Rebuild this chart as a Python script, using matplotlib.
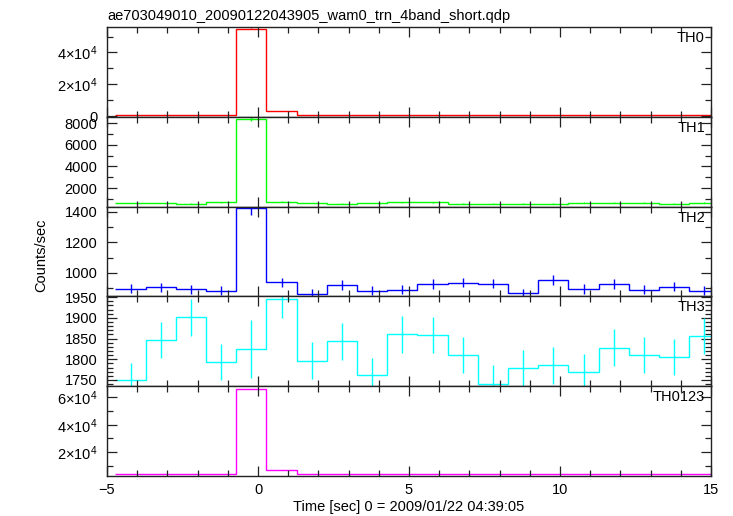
import numpy as np
import matplotlib
matplotlib.use('Agg')
import matplotlib.pyplot as plt
from matplotlib.ticker import MultipleLocator, FuncFormatter

plt.rcParams['font.family'] = ['Liberation Sans', 'DejaVu Sans']
plt.rcParams['mathtext.fontset'] = 'custom'
plt.rcParams['mathtext.rm'] = 'Liberation Sans'
plt.rcParams['mathtext.it'] = 'Liberation Sans:italic'

# bin centres (1 s bins), seconds from trigger
time = [-4.22, -3.22, -2.22, -1.22, -0.22, 0.78, 1.78, 2.78, 3.78, 4.78,
        5.78, 6.78, 7.78, 8.78, 9.78, 10.78, 11.78, 12.78, 13.78, 14.78]

th0 = [800, 800, 780, 780, 54900, 3370, 800, 780, 790, 800,
       780, 800, 500, 780, 800, 790, 780, 500, 800, 790]
th0_err = [30, 30, 30, 30, 250, 60, 30, 30, 30, 30,
           30, 30, 30, 30, 30, 30, 30, 30, 30, 30]

th1 = [624, 624, 569, 688, 8370, 750, 624, 569, 624, 688,
       688, 569, 569, 569, 569, 661, 661, 661, 569, 661]
th1_err = [25, 25, 25, 25, 180, 28, 25, 25, 25, 25,
           25, 25, 25, 25, 25, 25, 25, 25, 25, 25]

th2 = [897, 906, 893, 884, 1420, 938, 862, 921, 884, 890,
       928, 936, 930, 866, 954, 895, 928, 890, 910, 884]
th2_err = [30, 30, 30, 30, 40, 31, 30, 30, 30, 30,
           30, 30, 30, 30, 30, 30, 30, 30, 30, 30]

th3 = [1749, 1846, 1901, 1793, 1825, 1946, 1797, 1843, 1762, 1860,
       1858, 1810, 1741, 1779, 1785, 1770, 1828, 1810, 1806, 1856]
th3_err = [42, 44, 44, 44, 71, 46, 44, 44, 40, 44,
           44, 44, 44, 44, 44, 42, 44, 44, 44, 44]

th0123 = [3950, 4050, 4000, 4000, 66300, 7000, 3900, 3950, 3850, 3950,
          4000, 3950, 3850, 3900, 3950, 4000, 3950, 3950, 3950, 4000]
th0123_err = [50, 50, 50, 50, 260, 80, 50, 50, 50, 50,
              50, 50, 50, 50, 50, 50, 50, 50, 50, 50]

names = ['TH0', 'TH1', 'TH2', 'TH3', 'TH0123']
colors = ['#ff0000', '#00ff00', '#0000ff', '#00ffff', '#ff00ff']
series = [th0, th1, th2, th3, th0123]
errors = [th0_err, th1_err, th2_err, th3_err, th0123_err]
ylims = [(-400, 56100), (293, 8606), (847, 1433), (1735, 1952), (2400, 68300)]
major = [2e4, 2000, 200, 50, 2e4]
minor = [1e4, 1000, 100, 10, 1e4]


def sci(v, pos):
    if v == 0:
        return '0'
    e = int(np.floor(np.log10(abs(v))))
    m = v / 10**e
    return r'$%d{\times}10^{%d}$' % (round(m), e)


fig, axes = plt.subplots(5, 1, sharex=True, figsize=(7.33, 5.16), dpi=100)
fig.subplots_adjust(left=0.146, right=0.970, top=0.948, bottom=0.0775, hspace=0)

t = np.array(time)
edges = np.append(t - 0.5, t[-1] + 0.5)

for i, ax in enumerate(axes):
    ax.stairs(series[i], edges, color=colors[i], lw=1.0, baseline=None)
    ax.errorbar(time, series[i], yerr=errors[i], fmt='none', ecolor=colors[i],
                elinewidth=1.0, capsize=0)
    ax.set_ylim(*ylims[i])
    ax.set_xlim(-5, 15)
    ax.yaxis.set_major_locator(MultipleLocator(major[i]))
    ax.yaxis.set_minor_locator(MultipleLocator(minor[i]))
    if major[i] >= 1e4:
        ax.yaxis.set_major_formatter(FuncFormatter(sci))
    ax.xaxis.set_major_locator(MultipleLocator(5))
    ax.xaxis.set_minor_locator(MultipleLocator(1))
    ax.tick_params(which='both', direction='in', top=True, right=True,
                   labelsize=10.5, pad=7, color='#222222', width=0.9)
    ax.tick_params(which='major', length=7)
    ax.tick_params(which='minor', length=4)
    for s in ax.spines.values():
        s.set_linewidth(1.0)
        s.set_color('#222222')
    ax.text(0.99, 0.955, names[i], transform=ax.transAxes, ha='right', va='top',
            fontsize=10.5)

axes[-1].tick_params(axis='x', pad=5)

fig.text(0.146, 1 - 20 / 516, 'ae703049010_20090122043905_wam0_trn_4band_short.qdp',
         ha='left', va='baseline', fontsize=10.5)
fig.text(41 / 733, 1 - 255 / 516, 'Counts/sec', rotation=90, ha='center', va='center',
         fontsize=10.5)
fig.text(0.558, 1 - 507 / 516, 'Time [sec] 0 = 2009/01/22 04:39:05', ha='center',
         va='center', fontsize=10.5)

fig.savefig('out.png', dpi=100)
